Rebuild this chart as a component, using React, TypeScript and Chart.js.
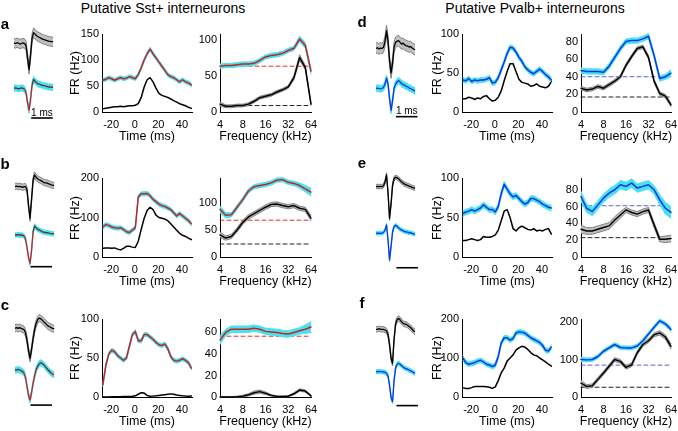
import React, { useEffect, useRef } from "react";
import { Chart, registerables } from "chart.js";

Chart.register(...registerables);

const FONT = "'Liberation Sans', Arial, Helvetica, sans-serif";

// ---------------- data ----------------
const TIME_MS = [-27, -24.5, -22, -19.5, -17, -14.5, -12, -9.5, -7, -4.5, -2, 0.5, 3, 5.5, 8, 10.5, 13, 15.5, 18, 20.5, 23, 25.5, 28, 30.5, 33, 35.5, 38, 40.5, 43, 45.5, 48];
const FREQ_KHZ = [4, 4.76, 5.66, 6.73, 8, 9.51, 11.31, 13.45, 16, 19.03, 22.63, 26.91, 32, 38.05, 45.25, 53.82, 64];
const TIME_TICKS = [-20, 0, 20, 40];
const FREQ_TICKS = [4, 8, 16, 32, 64];
const WAVE_MS = [0, 0.07, 0.14, 0.21, 0.28, 0.35, 0.42, 0.49, 0.56, 0.63, 0.7, 0.77, 0.84, 0.91, 0.98, 1.05, 1.12, 1.19, 1.26, 1.33, 1.4, 1.47, 1.54, 1.61, 1.68, 1.75, 1.82];
const SCALE_BAR_MS = 1;

// panel a (Sst)
const A_TIME_COLOR = [61, 63, 66, 64, 61, 64, 66, 64, 65, 68, 66, 64, 72, 85, 100, 112, 121, 112, 104, 96, 88, 80, 72, 68, 66, 62, 58, 62, 58, 56, 52];
const A_TIME_BLACK = [6, 7, 8, 9, 10, 10, 11, 10, 11, 12, 12, 13, 16, 28, 48, 62, 66, 58, 46, 36, 32, 30, 28, 25, 22, 19, 16, 14, 12, 9, 7];
const A_FREQ_COLOR = [64, 65, 65, 66, 67, 67, 68, 72, 77, 79, 80, 82, 86, 89, 102, 93, 57];
const A_FREQ_COLOR_SEM = [3, 3, 3, 3, 3, 3, 3, 3, 3, 3, 3, 3, 3, 3, 4, 4, 4];
const A_FREQ_BLACK = [11, 8, 8, 9, 9, 11, 15, 20, 22, 24, 28, 31, 35, 48, 76, 62, 11];
const A_FREQ_BLACK_SEM = [3, 2, 2, 2, 2, 2, 2, 2, 2, 2, 2, 2, 2, 3, 4, 3, 2];
const A_BASELINES = [64, 9];
const A_TIME_YTICKS = [0, 50, 100, 150];
const A_FREQ_YTICKS = [0, 50, 100];
const A_WAVE_TOP = [0.02, 0.0, 0.03, 0.01, -0.02, 0.0, 0.02, 0.0, -0.08, -0.55, -1.0, -0.45, 0.2, 0.42, 0.36, 0.3, 0.26, 0.23, 0.2, 0.17, 0.15, 0.13, 0.11, 0.09, 0.08, 0.07, 0.06];
const A_WAVE_BOT = [0.0, 0.02, 0.0, -0.03, 0.0, 0.02, 0.0, -0.04, -0.2, -0.65, -1.0, -0.5, 0.15, 0.4, 0.32, 0.25, 0.2, 0.18, 0.16, 0.12, 0.12, 0.1, 0.08, 0.06, 0.06, 0.05, 0.04];

// panel b (Sst)
const B_TIME_COLOR = [76, 82, 80, 76, 74, 73, 74, 70, 64, 62, 68, 74, 152, 160, 160, 161, 155, 146, 140, 134, 130, 128, 124, 120, 112, 104, 110, 104, 98, 92, 84];
const B_TIME_BLACK = [22, 23, 23, 22, 23, 20, 18, 22, 27, 27, 25, 24, 40, 70, 98, 118, 126, 120, 106, 100, 98, 96, 92, 84, 76, 68, 60, 55, 52, 48, 44];
const B_FREQ_COLOR = [88, 77, 78, 92, 106, 122, 130, 132, 134, 137, 142, 143, 138, 136, 132, 126, 120];
const B_FREQ_COLOR_SEM = [6, 5, 4, 4, 4, 4, 4, 4, 4, 4, 4, 4, 4, 4, 5, 6, 7];
const B_FREQ_BLACK = [41, 35, 38, 50, 64, 74, 80, 86, 92, 97, 98, 95, 93, 95, 90, 88, 72];
const B_FREQ_BLACK_SEM = [5, 4, 4, 4, 4, 4, 4, 4, 4, 4, 4, 4, 4, 4, 4, 4, 5];
const B_BASELINES = [68, 24];
const B_TIME_YTICKS = [0, 100, 200];
const B_FREQ_YTICKS = [0, 50, 100];
const B_WAVE_TOP = [0.0, 0.02, 0.0, 0.01, 0.0, -0.02, 0.0, 0.0, -0.1, -0.6, -1.0, -0.4, 0.2, 0.37, 0.3, 0.25, 0.22, 0.2, 0.17, 0.14, 0.12, 0.12, 0.1, 0.08, 0.06, 0.05, 0.04];
const B_WAVE_BOT = [0.0, 0.0, 0.01, 0.0, 0.0, -0.01, -0.03, -0.15, -0.45, -0.8, -1.0, -0.55, 0.1, 0.32, 0.26, 0.2, 0.18, 0.15, 0.12, 0.1, 0.09, 0.08, 0.08, 0.06, 0.05, 0.05, 0.04];

// panel c (Sst)
const C_TIME_COLOR = [16, 40, 55, 60, 58, 53, 50, 47, 50, 65, 80, 84, 72, 72, 80, 80, 77, 74, 70, 67, 66, 68, 62, 52, 47, 46, 47, 49, 47, 44, 37];
const C_TIME_BLACK = [0, 0, 0, 0.2, 0.3, 0.3, 0.4, 0.5, 0.6, 0.8, 1, 1.5, 3.5, 5.5, 5, 2, 1, 1.2, 1.5, 2, 2.5, 3, 3.5, 4, 3.5, 2.5, 2, 1.5, 1.2, 1, 1.2];
const C_FREQ_COLOR = [53, 60, 63, 63, 63, 63, 64, 63, 61, 60.5, 60, 59, 58.5, 60, 61.5, 63, 65];
const C_FREQ_COLOR_SEM = [4, 3, 3, 3, 3, 3, 3, 3, 3, 3, 3, 3, 3, 3, 3, 4, 5];
const C_FREQ_BLACK = [0, 0, 0, 0.3, 0.8, 2, 4, 5, 3.5, 1.5, 0.5, 0.5, 0.8, 3, 6.5, 5.5, 1];
const C_FREQ_BLACK_SEM = [0.5, 0.5, 0.5, 0.5, 0.8, 1, 1.5, 1.5, 1.2, 0.8, 0.5, 0.5, 0.6, 1, 1.2, 1, 0.5];
const C_BASELINES = [56.5, null];
const C_TIME_YTICKS = [0, 50, 100];
const C_FREQ_YTICKS = [0, 20, 40, 60];
const C_WAVE_TOP = [0.0, 0.02, 0.0, 0.02, 0.0, -0.02, -0.05, -0.15, -0.4, -0.75, -1.0, -0.7, -0.35, -0.05, 0.15, 0.28, 0.34, 0.32, 0.28, 0.22, 0.18, 0.12, 0.08, 0.05, 0.02, 0.0, -0.02];
const C_WAVE_BOT = [0.0, 0.0, 0.02, 0.0, -0.02, -0.05, -0.1, -0.25, -0.55, -0.85, -1.0, -0.75, -0.45, -0.2, 0.0, 0.12, 0.2, 0.24, 0.22, 0.18, 0.12, 0.06, 0.0, -0.05, -0.1, -0.14, -0.16];

// panel d (Pvalb)
const D_TIME_COLOR = [41, 40, 43, 39, 41, 40, 41, 41, 42, 44, 37, 38, 44, 54, 64, 75, 83, 82, 77, 70, 65, 58, 54, 51, 49, 52, 55, 52, 48, 45, 41];
const D_TIME_BLACK = [17, 17, 19, 18, 16, 18, 17, 20, 21, 17, 14, 15, 19, 27, 40, 52, 62, 62, 52, 42, 38, 37, 36, 33, 34, 36, 33, 32, 31, 33, 39];
const D_FREQ_COLOR = [47, 46, 46, 46, 45, 52, 62, 72, 80, 81, 81, 83, 86, 64, 38, 40, 44];
const D_FREQ_COLOR_SEM = [3, 3, 3, 3, 3, 3, 3, 3, 3, 3, 3, 3, 3, 3, 3, 3, 4];
const D_FREQ_BLACK = [27, 25, 26, 29, 27, 31, 35, 40, 53, 63, 72, 74, 62, 35, 21, 18, 8];
const D_FREQ_BLACK_SEM = [2, 2, 2, 2, 2, 2, 2, 2, 2, 2, 2, 2, 2, 2, 2, 2, 2];
const D_BASELINES = [40, 17];
const D_TIME_YTICKS = [0, 50, 100];
const D_FREQ_YTICKS = [0, 20, 40, 60, 80];
const D_WAVE_TOP = [0.0, 0.03, -0.02, 0.02, 0.0, 0.05, 0.3, 0.73, 0.3, -0.5, -1.0, -0.6, 0.05, 0.25, 0.3, 0.32, 0.25, 0.18, 0.22, 0.15, 0.12, 0.1, 0.06, 0.08, 0.02, -0.02, -0.05];
const D_WAVE_BOT = [0.0, 0.02, 0.0, -0.02, 0.0, 0.05, 0.2, 0.47, 0.2, -0.45, -1.0, -0.55, 0.0, 0.2, 0.3, 0.36, 0.3, 0.22, 0.18, 0.15, 0.1, 0.08, 0.02, 0.0, -0.05, -0.08, -0.12];

// panel e (Pvalb)
const E_TIME_COLOR = [55, 57, 58, 60, 58, 60, 62, 66, 63, 60, 60, 57, 64, 80, 92, 86, 80, 76, 78, 74, 70, 67, 69, 74, 74, 72, 70, 67, 65, 63, 62];
const E_TIME_BLACK = [21, 21, 22, 23, 22, 21, 22, 26, 25, 25, 26, 28, 34, 46, 58, 60, 50, 36, 33, 37, 39, 37, 35, 34, 36, 33, 34, 33, 35, 36, 29];
const E_FREQ_COLOR = [72, 58, 54, 62, 70, 76, 80, 86, 84, 88, 82, 84, 86, 80, 68, 58, 53];
const E_FREQ_COLOR_SEM = [6, 5, 5, 5, 5, 5, 5, 5, 5, 5, 5, 5, 5, 5, 6, 7, 7];
const E_FREQ_BLACK = [33, 31, 31, 33, 35, 37, 44, 50, 56, 53, 51, 54, 56, 38, 21, 21, 22];
const E_FREQ_BLACK_SEM = [5, 4, 4, 4, 4, 4, 4, 4, 3, 3, 3, 3, 3, 3, 3, 4, 4];
const E_BASELINES = [61, 23];
const E_TIME_YTICKS = [0, 50, 100];
const E_FREQ_YTICKS = [0, 20, 40, 60, 80];
const E_WAVE_TOP = [0.0, 0.01, 0.0, 0.01, 0.0, 0.03, 0.15, 0.37, -0.2, -1.0, -0.55, 0.05, 0.25, 0.3, 0.28, 0.25, 0.2, 0.15, 0.12, 0.08, 0.06, 0.04, 0.02, 0.0, -0.02, -0.04, -0.05];
const E_WAVE_BOT = [0.0, 0.01, 0.0, 0.01, 0.0, 0.03, 0.12, 0.31, -0.25, -1.0, -0.5, 0.05, 0.25, 0.3, 0.26, 0.2, 0.16, 0.12, 0.1, 0.06, 0.05, 0.04, 0.02, 0.02, 0.0, -0.02, -0.03];

// panel f (Pvalb)
const F_TIME_COLOR = [100, 88, 84, 86, 88, 92, 94, 90, 84, 82, 78, 82, 104, 138, 152, 152, 146, 150, 164, 167, 166, 164, 158, 152, 148, 144, 140, 132, 120, 118, 128];
const F_TIME_BLACK = [24, 22, 22, 24, 27, 27, 27, 27, 26, 25, 22, 26, 42, 62, 74, 92, 100, 108, 120, 126, 130, 128, 122, 114, 108, 106, 100, 95, 90, 84, 79];
const F_FREQ_COLOR = [100, 99, 100, 108, 122, 131, 140, 132, 131, 131, 136, 150, 168, 186, 203, 195, 180];
const F_FREQ_COLOR_SEM = [6, 5, 5, 5, 5, 5, 5, 5, 5, 5, 5, 5, 5, 5, 5, 5, 6];
const F_FREQ_BLACK = [37, 28, 30, 47, 64, 82, 100, 95, 79, 86, 118, 140, 150, 166, 171, 160, 135];
const F_FREQ_BLACK_SEM = [8, 5, 5, 5, 5, 5, 5, 5, 5, 5, 5, 5, 5, 5, 6, 6, 7];
const F_BASELINES = [85, 26];
const F_TIME_YTICKS = [0, 100, 200];
const F_FREQ_YTICKS = [0, 100, 200];
const F_WAVE_TOP = [0.0, 0.0, 0.02, 0.0, 0.0, 0.0, -0.02, -0.05, -0.15, -0.45, -0.85, -1.0, -0.3, 0.15, 0.28, 0.32, 0.28, 0.22, 0.18, 0.15, 0.15, 0.12, 0.08, 0.05, 0.0, -0.05, -0.07];
const F_WAVE_BOT = [0.0, 0.0, 0.01, 0.0, 0.0, -0.01, -0.02, -0.05, -0.15, -0.45, -0.85, -1.0, -0.3, 0.12, 0.25, 0.28, 0.25, 0.2, 0.16, 0.12, 0.1, 0.08, 0.05, 0.03, 0.0, -0.03, -0.05];

// ---------------- styling / layout ----------------
const COL = {
  red: "rgb(200,35,35)",
  redDark: "rgb(90,50,50)",
  blue: "rgb(20,50,230)",
  cyan: "rgb(72,226,238)",
  gray: "rgb(190,190,190)",
  grayEdge: "rgb(95,95,95)",
  black: "#000",
  redDash: "rgb(225,45,45)",
  blueDash: "rgb(95,95,215)",
  blackDash: "rgb(35,35,35)",
};

const TIME_MIN = -27.7;
const TIME_MAX = 48.5;
const PADL = 34, PADT = 8, PADR = 14, PADB = 26;
const PPM = 21.5; // waveform px per ms
const WAVE_W = 46;

const ROWS = [{ top: 34, h: 78 }, { top: 178, h: 79 }, { top: 319, h: 78 }];
const COLS = [
  { timeL: 102, timeW: 90, freqL: 220, freqW: 91, frX: 75, letterX: 5 },
  { timeL: 462, timeW: 90, freqL: 581, freqW: 90, frX: 437, letterX: 362 },
];

const PANELS: any[] = [
  { letter: "a", letterY: 22.7, col: 0, row: 0, kind: "sst",
    time: { color: A_TIME_COLOR, black: A_TIME_BLACK, sem: 3.5, max: 150, ticks: A_TIME_YTICKS },
    freq: { color: A_FREQ_COLOR, colorSem: A_FREQ_COLOR_SEM, black: A_FREQ_BLACK, blackSem: A_FREQ_BLACK_SEM, base: A_BASELINES, max: 109, ticks: A_FREQ_YTICKS },
    wave: { top: A_WAVE_TOP, topSem: 0.18, bot: A_WAVE_BOT, botSem: 0.14, x0: 14, topBase: 43.5, topDepth: 26, botBase: 88.3, botDepth: 22, barY: -1.35, barStart: 0.8 }, msLabel: true },
  { letter: "b", letterY: 162.5, col: 0, row: 1, kind: "sst",
    time: { color: B_TIME_COLOR, black: B_TIME_BLACK, sem: 5, max: 200, ticks: B_TIME_YTICKS },
    freq: { color: B_FREQ_COLOR, colorSem: B_FREQ_COLOR_SEM, black: B_FREQ_BLACK, blackSem: B_FREQ_BLACK_SEM, base: B_BASELINES, max: 146, ticks: B_FREQ_YTICKS },
    wave: { top: B_WAVE_TOP, topSem: 0.1, bot: B_WAVE_BOT, botSem: 0.08, x0: 15, topBase: 186.7, topDepth: 31.6, botBase: 235, botDepth: 28.3, barY: -1.12, barStart: 0.72 }, msLabel: false },
  { letter: "c", letterY: 303.7, col: 0, row: 2, kind: "sst",
    time: { color: C_TIME_COLOR, black: C_TIME_BLACK, sem: 2.5, max: 100, ticks: C_TIME_YTICKS },
    freq: { color: C_FREQ_COLOR, colorSem: C_FREQ_COLOR_SEM, black: C_FREQ_BLACK, blackSem: C_FREQ_BLACK_SEM, base: C_BASELINES, max: 72.5, ticks: C_FREQ_YTICKS },
    wave: { top: C_WAVE_TOP, topSem: 0.12, bot: C_WAVE_BOT, botSem: 0.1, x0: 15, topBase: 328.3, topDepth: 30, botBase: 370, botDepth: 30, barY: -1.17, barStart: 0.72 }, msLabel: false },
  { letter: "d", letterY: 21, col: 1, row: 0, kind: "pv",
    time: { color: D_TIME_COLOR, black: D_TIME_BLACK, sem: 3, max: 100, ticks: D_TIME_YTICKS },
    freq: { color: D_FREQ_COLOR, colorSem: D_FREQ_COLOR_SEM, black: D_FREQ_BLACK, blackSem: D_FREQ_BLACK_SEM, base: D_BASELINES, max: 88.5, ticks: D_FREQ_YTICKS },
    wave: { top: D_WAVE_TOP, topSem: 0.22, bot: D_WAVE_BOT, botSem: 0.15, x0: 376, topBase: 48.5, topDepth: 24.5, botBase: 88.5, botDepth: 22, barY: -1.28, barStart: 0.93 }, msLabel: true },
  { letter: "e", letterY: 162, col: 1, row: 1, kind: "pv",
    time: { color: E_TIME_COLOR, black: E_TIME_BLACK, sem: 3.5, max: 100, ticks: E_TIME_YTICKS },
    freq: { color: E_FREQ_COLOR, colorSem: E_FREQ_COLOR_SEM, black: E_FREQ_BLACK, blackSem: E_FREQ_BLACK_SEM, base: E_BASELINES, max: 94, ticks: E_FREQ_YTICKS },
    wave: { top: E_WAVE_TOP, topSem: 0.07, bot: E_WAVE_BOT, botSem: 0.07, x0: 376, topBase: 186.7, topDepth: 31.6, botBase: 233.3, botDepth: 26.7, barY: -1.29, barStart: 0.95 }, msLabel: false },
  { letter: "f", letterY: 302, col: 1, row: 2, kind: "pv",
    time: { color: F_TIME_COLOR, black: F_TIME_BLACK, sem: 6, max: 200, ticks: F_TIME_YTICKS },
    freq: { color: F_FREQ_COLOR, colorSem: F_FREQ_COLOR_SEM, black: F_FREQ_BLACK, blackSem: F_FREQ_BLACK_SEM, base: F_BASELINES, max: 208, ticks: F_FREQ_YTICKS },
    wave: { top: F_WAVE_TOP, topSem: 0.08, bot: F_WAVE_BOT, botSem: 0.07, x0: 376, topBase: 329.3, topDepth: 34, botBase: 371.7, botDepth: 30, barY: -1.13, barStart: 0.95 }, msLabel: false },
];

// ---------------- helpers ----------------
function pts(xs: number[], ys: number[]) {
  return xs.map((x, i) => ({ x, y: ys[i] }));
}

function series(xs: number[], ys: number[], sem: any, color: string, band: string, edge: string | null, order: number, width: number, segment?: any) {
  const s = (i: number) => (Array.isArray(sem) ? sem[i] : sem);
  const out: any[] = [];
  if (sem !== null && sem !== undefined) {
    out.push({ data: xs.map((x, i) => ({ x, y: ys[i] + s(i) })), borderColor: edge || band, borderWidth: edge ? 0.7 : 1, fill: false, order: order + 1, pointRadius: 0 });
    out.push({ data: xs.map((x, i) => ({ x, y: ys[i] - s(i) })), borderColor: edge || band, borderWidth: edge ? 0.7 : 1, backgroundColor: band, fill: "-1", order: order + 1, pointRadius: 0 });
  }
  const line: any = { data: pts(xs, ys), borderColor: color, borderWidth: width, fill: false, order, pointRadius: 0 };
  if (segment) line.segment = segment;
  out.push(line);
  return out;
}

function dashed(xs: number[], y: number, color: string) {
  return { data: [{ x: xs[0], y }, { x: xs[xs.length - 1], y }], borderColor: color, borderWidth: 1, borderDash: [4, 3], fill: false, order: 20, pointRadius: 0 };
}

function mainConfig(datasets: any[], x: any, y: any) {
  return {
    type: "line",
    data: { datasets },
    options: {
      responsive: false,
      animation: false,
      events: [],
      clip: false,
      layout: { padding: { left: 0, top: PADT, right: PADR, bottom: 0 }, autoPadding: false },
      plugins: { legend: { display: false }, tooltip: { enabled: false }, title: { display: false } },
      elements: { point: { radius: 0 }, line: { tension: 0, borderJoinStyle: "round", borderCapStyle: "round" } },
      scales: {
        x: {
          type: "linear", position: "bottom", min: x.min, max: x.max,
          grid: { display: false, drawTicks: false },
          border: { display: true, color: "#000", width: 1 },
          ticks: { color: "#000", font: { family: FONT, size: 11 }, padding: 6, maxRotation: 0, autoSkip: false, callback: x.label },
          afterBuildTicks: (s: any) => { s.ticks = x.ticks.map((v: number) => ({ value: v })); },
          afterFit: (s: any) => { s.height = PADB; s.paddingLeft = 0; s.paddingRight = 0; },
        },
        y: {
          type: "linear", position: "left", min: y.min, max: y.max,
          grid: { display: false, drawTicks: false },
          border: { display: true, color: "#000", width: 1 },
          ticks: { color: "#000", font: { family: FONT, size: 11 }, padding: 3, autoSkip: false, callback: (v: number) => String(v) },
          afterBuildTicks: (s: any) => { s.ticks = y.ticks.map((v: number) => ({ value: v })); },
          afterFit: (s: any) => { s.width = PADL; s.paddingTop = 0; s.paddingBottom = 0; },
        },
      },
    },
  };
}

function waveConfig(datasets: any[], yMin: number, yMax: number) {
  return {
    type: "line",
    data: { datasets },
    options: {
      responsive: false,
      animation: false,
      events: [],
      layout: { padding: 0, autoPadding: false },
      plugins: { legend: { display: false }, tooltip: { enabled: false } },
      elements: { point: { radius: 0 }, line: { tension: 0, borderJoinStyle: "round" } },
      scales: {
        x: { type: "linear", display: false, min: 0, max: WAVE_W / PPM },
        y: { type: "linear", display: false, min: yMin, max: yMax },
      },
    },
  };
}

function ChartBox({ box, config }: any) {
  const ref = useRef<HTMLCanvasElement>(null);
  useEffect(() => {
    const c = new Chart(ref.current as HTMLCanvasElement, config);
    return () => c.destroy();
  }, []);
  return (
    <canvas
      ref={ref}
      width={box.w}
      height={box.h}
      style={{ position: "absolute", left: box.x, top: box.y, width: box.w + "px", height: box.h + "px", display: "block" }}
    />
  );
}

function Txt({ x, y, size, bold, rotate, children }: any) {
  return (
    <div
      style={{
        position: "absolute", left: x, top: y,
        transform: "translate(-50%,-50%)" + (rotate ? " rotate(-90deg)" : ""),
        fontFamily: FONT, fontSize: size + "px", lineHeight: size + "px",
        fontWeight: bold ? 700 : 400, whiteSpace: "nowrap", color: "#000",
      }}
    >
      {children}
    </div>
  );
}

function mainBox(L: number, T: number, w: number, h: number) {
  return { x: L - PADL, y: T - PADT, w: PADL + w + PADR, h: PADT + h + PADB };
}

function buildPanel(p: any) {
  const row = ROWS[p.row];
  const col = COLS[p.col];
  const lineColor = p.kind === "sst" ? COL.red : COL.blue;
  const dashColor = p.kind === "sst" ? COL.redDash : COL.blueDash;
  const items: any[] = [];

  // time PSTH
  const tDs = [
    ...series(TIME_MS, p.time.color, p.time.sem, lineColor, COL.cyan, null, 0, 1.5),
    ...series(TIME_MS, p.time.black, null, COL.black, COL.gray, null, 4, 1.5),
  ];
  items.push(
    <ChartBox key={p.letter + "t"} box={mainBox(col.timeL, row.top, col.timeW, row.h)}
      config={mainConfig(tDs, { min: TIME_MIN, max: TIME_MAX, ticks: TIME_TICKS, label: (v: number) => String(v) }, { min: 0, max: p.time.max, ticks: p.time.ticks })} />
  );

  // frequency tuning
  const lf = FREQ_KHZ.map((f) => Math.log2(f));
  const fDs: any[] = [
    ...series(lf, p.freq.color, p.freq.colorSem, lineColor, COL.cyan, null, 0, 1.5),
    ...series(lf, p.freq.black, p.freq.blackSem, COL.black, COL.gray, COL.grayEdge, 4, 1.5),
  ];
  if (p.freq.base[0] !== null) fDs.push(dashed(lf, p.freq.base[0], dashColor));
  if (p.freq.base[1] !== null) fDs.push(dashed(lf, p.freq.base[1], COL.blackDash));
  items.push(
    <ChartBox key={p.letter + "f"} box={mainBox(col.freqL, row.top, col.freqW, row.h)}
      config={mainConfig(fDs, { min: Math.log2(FREQ_TICKS[0]), max: Math.log2(FREQ_TICKS[FREQ_TICKS.length - 1]), ticks: FREQ_TICKS.map((f) => Math.log2(f)), label: (v: number) => String(Math.round(Math.pow(2, v))) }, { min: 0, max: p.freq.max, ticks: p.freq.ticks })} />
  );

  // waveforms
  const w = p.wave;
  const topT = Math.round(w.topBase - 1.05 * w.topDepth);
  const topH = Math.round(2.5 * w.topDepth);
  const topMax = (w.topBase - topT) / w.topDepth;
  const topDs = series(WAVE_MS, w.top, w.topSem, COL.black, COL.gray, COL.grayEdge, 0, 1.3);
  items.push(
    <ChartBox key={p.letter + "w1"} box={{ x: Math.round(w.x0), y: topT, w: WAVE_W, h: topH }}
      config={waveConfig(topDs, topMax - topH / w.topDepth, topMax)} />
  );
  const botT = Math.round(w.botBase - 0.75 * w.botDepth);
  const botH = Math.round(2.3 * w.botDepth);
  const botMax = (w.botBase - botT) / w.botDepth;
  const seg = p.kind === "sst"
    ? { borderColor: (c: any) => (c.p0.parsed.y < -0.12 || c.p1.parsed.y < -0.12 ? COL.red : COL.redDark) }
    : undefined;
  const botDs: any[] = series(WAVE_MS, w.bot, w.botSem, lineColor, COL.cyan, null, 0, 1.3, seg);
  botDs.push({ data: [{ x: w.barStart, y: w.barY }, { x: w.barStart + SCALE_BAR_MS, y: w.barY }], borderColor: "#000", borderWidth: 1.6, fill: false, order: 0, pointRadius: 0 });
  items.push(
    <ChartBox key={p.letter + "w2"} box={{ x: Math.round(w.x0), y: botT, w: WAVE_W, h: botH }}
      config={waveConfig(botDs, botMax - botH / w.botDepth, botMax)} />
  );

  // text
  const bottom = row.top + row.h;
  items.push(<Txt key={p.letter + "L"} x={col.letterX} y={p.letterY} size={15} bold>{p.letter}</Txt>);
  items.push(<Txt key={p.letter + "fr"} x={col.frX} y={row.top + row.h / 2} size={12.5} rotate>FR (Hz)</Txt>);
  items.push(<Txt key={p.letter + "tx"} x={col.timeL + col.timeW / 2} y={bottom + 24.4} size={12.5}>Time (ms)</Txt>);
  items.push(<Txt key={p.letter + "fx"} x={col.freqL + col.freqW / 2} y={bottom + 24.4} size={12.5}>Frequency (kHz)</Txt>);
  if (p.msLabel) {
    const barPx = w.botBase - w.barY * w.botDepth;
    items.push(<Txt key={p.letter + "ms"} x={Math.round(w.x0) + (w.barStart + SCALE_BAR_MS / 2) * PPM} y={barPx - 5.5} size={10}>1 ms</Txt>);
  }
  return items;
}

export default function App() {
  return (
    <div style={{ position: "absolute", left: 0, top: 0, width: 678, height: 431, background: "#fff", overflow: "hidden" }}>
      <Txt x={163} y={7.5} size={14}>Putative Sst+ interneurons</Txt>
      <Txt x={535} y={7.5} size={14}>Putative Pvalb+ interneurons</Txt>
      {PANELS.map((p) => buildPanel(p))}
    </div>
  );
}
